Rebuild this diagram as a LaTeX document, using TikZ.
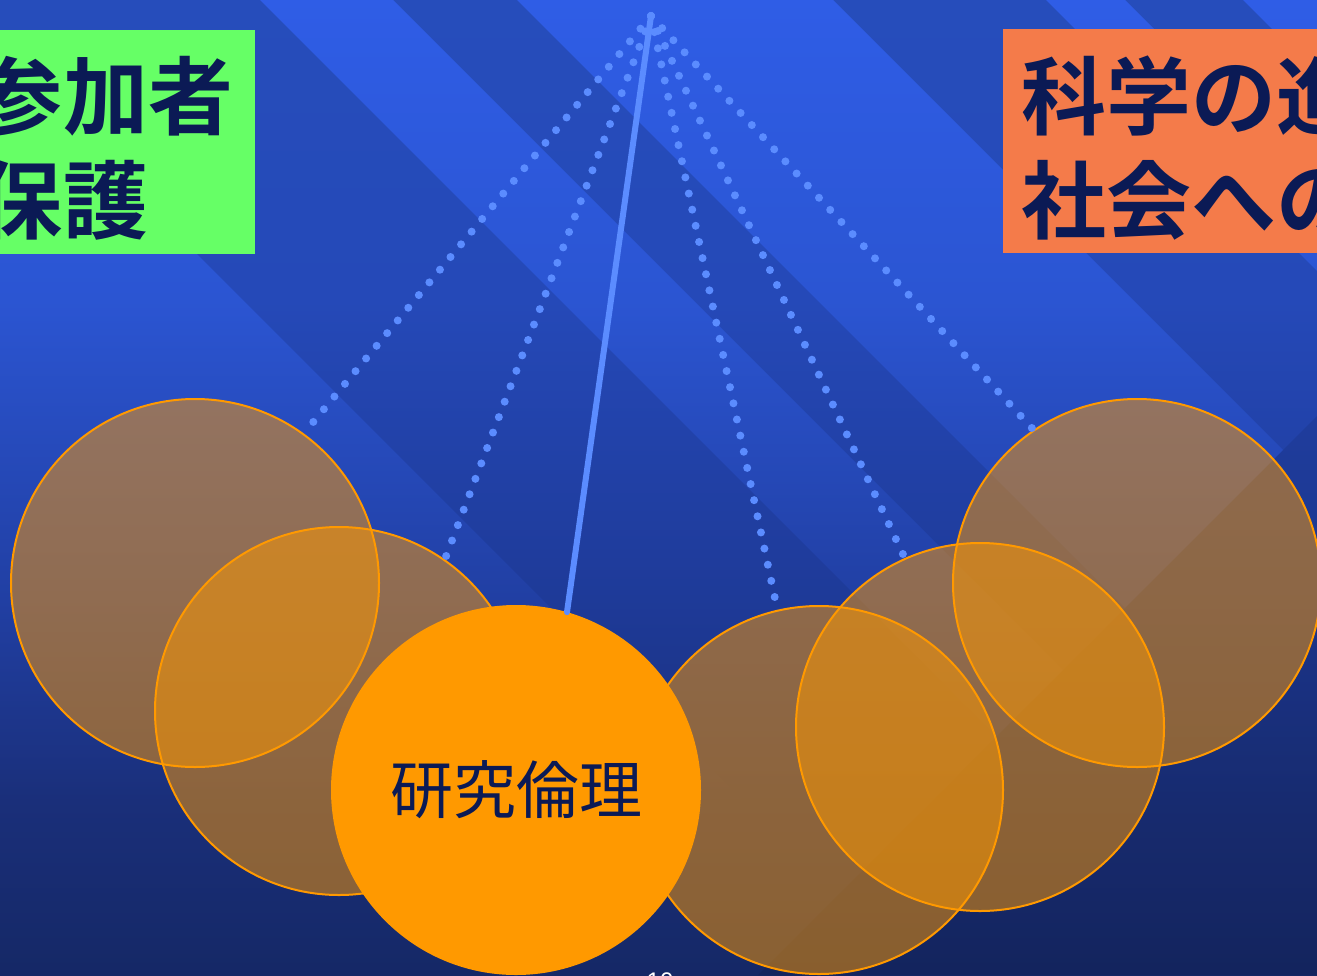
\documentclass[tikz,border=0pt]{standalone}
\usepackage{fontspec}
\newfontfamily\cjk{Noto Sans CJK JP}[BoldFont={Noto Sans CJK JP Bold}]
\newfontfamily\pgnum{Liberation Sans}
\definecolor{bgA}{HTML}{152866}
\definecolor{bgB}{HTML}{1A2F7A}
\definecolor{dkC}{HTML}{1E3A98}
\definecolor{dkD}{HTML}{2549B8}
\definecolor{dkE}{HTML}{264DBB}
\definecolor{ltC}{HTML}{213FA3}
\definecolor{ltD}{HTML}{2B55D2}
\definecolor{ltE}{HTML}{2F5DE6}
\definecolor{navytext}{HTML}{0B1A55}
\definecolor{boxgreen}{HTML}{66FF66}
\definecolor{boxorange}{HTML}{F47B4A}
\definecolor{ballorange}{HTML}{FF9900}
\definecolor{stringblue}{HTML}{5B8CFF}
\pgfdeclareverticalshading{bgdark}{100bp}{color(0bp)=(bgA); color(25bp)=(bgA); color(33.95bp)=(bgB); color(44.25bp)=(dkC); color(59.6bp)=(dkD); color(75bp)=(dkE); color(100bp)=(dkE)}
\pgfdeclareverticalshading{bglight}{100bp}{color(0bp)=(bgA); color(25bp)=(bgA); color(33.95bp)=(bgB); color(44.25bp)=(ltC); color(59.6bp)=(ltD); color(75bp)=(ltE); color(100bp)=(ltE)}
\tikzset{
  boxtext/.style={inner sep=0pt, outer sep=0pt, anchor=base west, text=navytext,
    font={\cjk\bfseries\fontsize{85bp}{104bp}\selectfont}},
  ghost/.style={circle, draw=ballorange, line width=2bp, fill=ballorange, fill opacity=0.5,
    draw opacity=1, minimum size=368bp, inner sep=0pt, outer sep=0pt},
  mainball/.style={circle, fill=ballorange, minimum size=370bp, inner sep=0pt, outer sep=0pt,
    text=navytext, font={\cjk\fontsize{63bp}{70bp}\selectfont}},
  trail/.style={stringblue, line width=8bp, line cap=round, dash pattern=on 0bp off 16.5bp},
  rope/.style={stringblue, line width=6bp, line cap=round}
}
\begin{document}
\begin{tikzpicture}[x=1bp,y=-1bp]
\useasboundingbox (0,0) rectangle (1317,975);
\clip (0,0) rectangle (1317,975);
% background
\shade[shading=bgdark] (0,0) rectangle (1317,975);
\begin{scope}
  \clip (0,57) -- (838,895) -- (758,975) -- (0,975) -- cycle
        (260,0) -- (393,0) -- (1063,670) -- (996.5,736.5) -- cycle
        (517,0) -- (833,0) -- (1283,450) -- (1125,608) -- cycle
        (1046,0) -- (1125,0) -- (1429,304) -- (1389.5,343.5) -- cycle
        (1243,0) -- (1330,0) -- (1330,87) -- cycle;
  \shade[shading=bglight] (0,0) rectangle (1317,975);
\end{scope}
\fill[black, opacity=0.08] (1317,416) -- (1317,975) -- (758,975) -- cycle;
% boxes
\fill[boxgreen] (-5,30) rectangle (255,254);
\fill[boxorange] (1003,29) rectangle (1330,253);
\node[boxtext] (g1) at (-22,128) {参加者};
\node[boxtext] (g2) at (-22,232) {保護};
\node[boxtext] (o1) at (1021,128) {科学の進};
\node[boxtext] (o2) at (1021,232) {社会への};
% pendulum
\coordinate (pivot) at (651,16);
\node[ghost] (c1) at (195,583) {};
\node[ghost] (c2) at (339,711) {};
\node[ghost] (c4) at (819,790) {};
\node[ghost] (c5) at (980,727) {};
\node[ghost] (c6) at (1137,583) {};
\node[mainball] (c3) at (516,790) {研究倫理};
\draw[trail] (pivot) -- (c1.54);
\draw[trail] (pivot) -- (c2.55);
\draw[trail] (pivot) -- (c4.103);
\draw[trail] (pivot) -- (c5.114);
\draw[trail] (pivot) -- (c6.124);
\draw[rope] (pivot) -- (c3.74);
\node[text=white, font={\pgnum\fontsize{24bp}{24bp}\selectfont}, anchor=base, inner sep=0pt] (pg) at (660,989) {10};
\end{tikzpicture}
\end{document}
